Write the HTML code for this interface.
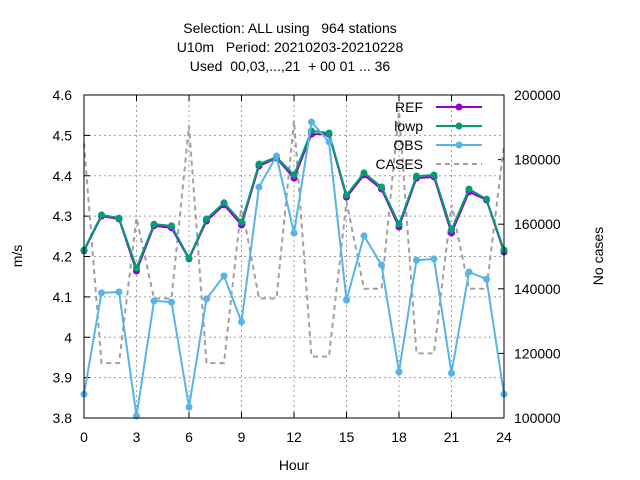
<!DOCTYPE html>
<html><head><meta charset="utf-8"><style>
body{margin:0;background:#fff}
svg{display:block;font-family:"Liberation Sans",sans-serif}
</style></head><body>
<svg id="chart" width="640" height="480" viewBox="0 0 640 480" xmlns="http://www.w3.org/2000/svg">
<rect width="640" height="480" fill="#fff"/>
<g font-size="14" text-anchor="middle" fill="#000">
<text x="290" y="33" xml:space="preserve">Selection: ALL using   964 stations</text>
<text x="290" y="52" xml:space="preserve">U10m   Period: 20210203-20210228</text>
<text x="290" y="71" xml:space="preserve">Used  00,03,...,21  + 00 01 ... 36</text>
</g>
<g id="grid"></g>
<g id="axes"></g>
<g id="series"></g>
<rect x="84" y="95" width="420" height="323" fill="none" stroke="#000" stroke-width="1"/>
<text x="294" y="470" font-size="14" text-anchor="middle">Hour</text>
<text x="22" y="256" font-size="14" text-anchor="middle" transform="rotate(-90 22 256)">m/s</text>
<text x="603" y="256" font-size="14" text-anchor="middle" transform="rotate(-90 603 256)">No cases</text>
<g id="legend"></g>
</svg>
<script>
const hours=[0,1,2,3,4,5,6,7,8,9,10,11,12,13,14,15,16,17,18,19,20,21,22,23,24];
const refVals=[4.214,4.300,4.293,4.164,4.276,4.271,4.194,4.288,4.328,4.278,4.424,4.444,4.394,4.503,4.503,4.347,4.402,4.367,4.273,4.394,4.397,4.258,4.360,4.340,4.211];
const lowpVals=[4.216,4.303,4.295,4.172,4.280,4.276,4.196,4.293,4.333,4.285,4.429,4.446,4.402,4.511,4.506,4.352,4.407,4.372,4.280,4.399,4.402,4.266,4.367,4.342,4.216];
const obsVals=[3.859,4.110,4.112,3.805,4.090,4.087,3.827,4.095,4.152,4.038,4.372,4.449,4.258,4.533,4.484,4.092,4.251,4.179,3.914,4.191,4.194,3.911,4.162,4.144,3.859];
const casesVals=[185000,117000,117000,162000,137000,137000,190500,117000,117000,166000,137000,137000,192000,119000,119000,167000,140000,140000,195000,120000,120000,166000,140000,140000,184500];
const xTicks=[0,3,6,9,12,15,18,21,24];
const yTicks=[3.8,3.9,4.0,4.1,4.2,4.3,4.4,4.5,4.6];
const yTickLabels=["3.8","3.9","4","4.1","4.2","4.3","4.4","4.5","4.6"];
const y2Ticks=[100000,120000,140000,160000,180000,200000];
const NS="http://www.w3.org/2000/svg";
const X=h=>84+(h-0)/24*420;
const Y=v=>418-(v-3.8)/0.8*323;
const Y2=v=>418-(v-100000)/100000*323;
function mk(tag,attrs,parent){const e=document.createElementNS(NS,tag);for(const k in attrs)e.setAttribute(k,attrs[k]);parent.appendChild(e);return e;}
const grid=document.getElementById('grid'),axes=document.getElementById('axes'),series=document.getElementById('series'),legend=document.getElementById('legend');
xTicks.forEach(t=>{
 const x=X(t);
 if(t>0&&t<24){const g=mk('line',{x1:x,x2:x,y1:95,y2:418,stroke:'#a0a0a0','stroke-dasharray':'2,3'},grid);
 
 }
 mk('line',{x1:x,x2:x,y1:418,y2:412,stroke:'#000'},axes);
 mk('line',{x1:x,x2:x,y1:95,y2:101,stroke:'#000'},axes);
 const l=mk('text',{x:x,y:442,'font-size':14,'text-anchor':'middle'},axes);l.textContent=t;
 
 
});
yTicks.forEach((t,i)=>{
 const y=Y(t);
 if(i>0&&i<yTicks.length-1){const g=mk('line',{x1:84,x2:504,y1:y,y2:y,stroke:'#a0a0a0','stroke-dasharray':'2,3'},grid);
 
 }
 mk('line',{x1:84,x2:90,y1:y,y2:y,stroke:'#000'},axes);
 const l=mk('text',{x:72,y:y+5,'font-size':14,'text-anchor':'end'},axes);l.textContent=yTickLabels[i];
 
 
});
y2Ticks.forEach(t=>{
 const y=Y2(t);
 mk('line',{x1:498,x2:504,y1:y,y2:y,stroke:'#000'},axes);
 const l=mk('text',{x:514,y:y+5,'font-size':14,'text-anchor':'start'},axes);l.textContent=t;
 
 
});
function pts(vals,f){return vals.map((v,i)=>X(hours[i])+','+f(v)).join(' ');}
const c=mk('polyline',{points:pts(casesVals,Y2),fill:'none',stroke:'#a0a0a0','stroke-width':2,'stroke-dasharray':'5,4'},series);


function line(vals,color,name){
 const p=mk('polyline',{points:pts(vals,Y),fill:'none',stroke:color,'stroke-width':2},series);
 
 
 vals.forEach((v,i)=>{const m=mk('circle',{cx:X(hours[i]),cy:Y(v),r:3.5,fill:color},series);
 
 });
}
line(refVals,'#9400d3','ref');
line(lowpVals,'#009e73','lowp');
line(obsVals,'#56b4e9','obs');
const leg=[['REF','#9400d3',false],['lowp','#009e73',false],['OBS','#56b4e9',false],['CASES','#a0a0a0',true]];
leg.forEach((e,i)=>{
 const y=107+i*19;
 const t=mk('text',{x:423,y:y+5,'font-size':14,'text-anchor':'end'},legend);t.textContent=e[0];
 
 
 const l=mk('line',{x1:436,x2:482,y1:y,y2:y,stroke:e[1],'stroke-width':2},legend);
 if(e[2])l.setAttribute('stroke-dasharray','5,4');
 else mk('circle',{cx:459,cy:y,r:3.5,fill:e[1]},legend);
});
</script>
</body></html>
